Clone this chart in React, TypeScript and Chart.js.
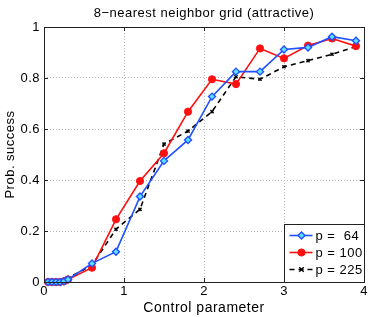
import React, { useEffect, useRef } from "react";
import { Chart, registerables } from "chart.js";

Chart.register(...registerables);

const controlParam = [0.05, 0.1, 0.15, 0.2, 0.25, 0.3, 0.6, 0.9, 1.2, 1.5, 1.8, 2.1, 2.4, 2.7, 3.0, 3.3, 3.6, 3.9];
const p64 = [0, 0, 0, 0, 0.003, 0.01, 0.073, 0.119, 0.335, 0.475, 0.557, 0.727, 0.825, 0.825, 0.912, 0.92, 0.962, 0.946];
const p100 = [0, 0, 0, 0, 0.003, 0.01, 0.056, 0.246, 0.396, 0.505, 0.668, 0.795, 0.776, 0.916, 0.877, 0.927, 0.955, 0.925];
const p225 = [0, 0, 0, 0, 0.005, 0.015, 0.066, 0.207, 0.285, 0.541, 0.592, 0.668, 0.805, 0.795, 0.844, 0.868, 0.893, 0.923];
const seriesLabels = ["p =  64", "p = 100", "p = 225"];
const xTicks = [0, 1, 2, 3, 4];
const yTicks = [0, 0.2, 0.4, 0.6, 0.8, 1];
const titleText = "8\u2212nearest neighbor grid (attractive)";

const FONT = "'Liberation Sans', Arial, Helvetica, sans-serif";

const toPts = (ys: number[]) => ys.map((y, i) => ({ x: controlParam[i], y }));

function drawMarker(ctx: CanvasRenderingContext2D, ds: any, x: number, y: number) {
  ctx.save();
  ctx.setLineDash([]);
  ctx.lineWidth = ds.pointBorderWidth;
  ctx.strokeStyle = ds.pointBorderColor;
  ctx.fillStyle = ds.pointBackgroundColor;
  const r = ds.pointRadius;
  ctx.beginPath();
  if (ds.pointStyle === "rectRot") {
    ctx.moveTo(x, y - r);
    ctx.lineTo(x + r, y);
    ctx.lineTo(x, y + r);
    ctx.lineTo(x - r, y);
    ctx.closePath();
    ctx.fill();
    ctx.stroke();
  } else if (ds.pointStyle === "circle") {
    ctx.arc(x, y, r, 0, Math.PI * 2);
    ctx.fill();
    ctx.stroke();
  } else {
    ctx.moveTo(x - r, y - r);
    ctx.lineTo(x + r, y + r);
    ctx.moveTo(x + r, y - r);
    ctx.lineTo(x - r, y + r);
    ctx.stroke();
  }
  ctx.restore();
}

const spacingPlugin = {
  id: "spacing",
  beforeLayout(chart: any) {
    (chart.ctx as any).letterSpacing = "0.5px";
  },
  beforeDraw(chart: any) {
    (chart.ctx as any).letterSpacing = "0.5px";
  },
};

const framePlugin = {
  id: "frame",
  afterDatasetsDraw(chart: any) {
    const { ctx, chartArea: a, scales } = chart;
    ctx.save();
    ctx.strokeStyle = "#222";
    ctx.lineWidth = 1;
    ctx.setLineDash([]);
    ctx.strokeRect(Math.round(a.left) + 0.5, Math.round(a.top) + 0.5, Math.round(a.right - a.left), Math.round(a.bottom - a.top));
    const tl = 4;
    ctx.beginPath();
    xTicks.forEach((v) => {
      const px = Math.round(scales.x.getPixelForValue(v)) + 0.5;
      ctx.moveTo(px, a.bottom);
      ctx.lineTo(px, a.bottom - tl);
      ctx.moveTo(px, a.top);
      ctx.lineTo(px, a.top + tl);
    });
    yTicks.forEach((v) => {
      const py = Math.round(scales.y.getPixelForValue(v)) + 0.5;
      ctx.moveTo(a.left, py);
      ctx.lineTo(a.left + tl, py);
      ctx.moveTo(a.right, py);
      ctx.lineTo(a.right - tl, py);
    });
    ctx.stroke();

    // title centred over the plot area
    ctx.fillStyle = "#000";
    ctx.font = `13px ${FONT}`;
    ctx.textAlign = "center";
    ctx.textBaseline = "middle";
    ctx.fillText(titleText, (a.left + a.right) / 2, 13);

    // legend box in lower right
    const w = 80, h = 58;
    const lx = Math.round(a.right) - w + 0.5;
    const ly = Math.round(a.bottom) - h + 0.5;
    ctx.fillStyle = "#fff";
    ctx.fillRect(lx, ly, w, h);
    ctx.strokeStyle = "#222";
    ctx.strokeRect(lx, ly, w, h);
    ctx.font = `13px ${FONT}`;
    ctx.textBaseline = "middle";
    ctx.textAlign = "left";
    chart.data.datasets.forEach((ds: any, i: number) => {
      const yy = ly + 11 + i * 17;
      ctx.save();
      ctx.strokeStyle = ds.borderColor;
      ctx.lineWidth = ds.borderWidth;
      ctx.setLineDash(ds.borderDash || []);
      ctx.beginPath();
      ctx.moveTo(lx + 5, yy);
      ctx.lineTo(lx + 28, yy);
      ctx.stroke();
      ctx.restore();
      drawMarker(ctx, ds, lx + 17, yy);
      ctx.fillStyle = "#000";
      ctx.fillText(ds.label, lx + 31, yy + 1);
    });
    ctx.restore();
  },
};

export default function App() {
  const ref = useRef<HTMLCanvasElement>(null);
  useEffect(() => {
    if (!ref.current) return;
    const grid = {
      color: "#b8b8b8",
      lineWidth: 1,
      tickLength: 0,
      drawTicks: false,
    };
    const chart = new Chart(ref.current, {
      type: "line",
      data: {
        datasets: [
          {
            label: seriesLabels[0],
            data: toPts(p64),
            borderColor: "#2050ff",
            backgroundColor: "#2050ff",
            borderWidth: 1.6,
            pointStyle: "rectRot",
            pointRadius: 3.5,
            pointBorderWidth: 1.4,
            pointBorderColor: "#2050ff",
            pointBackgroundColor: "#60e0ff",
            clip: false,
          } as any,
          {
            label: seriesLabels[1],
            data: toPts(p100),
            borderColor: "#ff1010",
            backgroundColor: "#ff1010",
            borderWidth: 1.6,
            pointStyle: "circle",
            pointRadius: 3.6,
            pointBorderWidth: 1,
            pointBorderColor: "#ff1010",
            pointBackgroundColor: "#ff1010",
            clip: false,
          } as any,
          {
            label: seriesLabels[2],
            data: toPts(p225),
            borderColor: "#000",
            backgroundColor: "#000",
            borderWidth: 1.6,
            borderDash: [5, 4],
            pointStyle: "crossRot",
            pointRadius: 2.2,
            pointBorderWidth: 1.5,
            pointBorderColor: "#000",
            pointBackgroundColor: "#000",
            clip: false,
          } as any,
        ],
      },
      options: {
        animation: false,
        responsive: false,
        devicePixelRatio: 1,
        layout: { padding: { left: 0, right: 10, top: 27, bottom: 0 } },
        plugins: {
          legend: { display: false },
          tooltip: { enabled: false },
          title: { display: false },
        },
        scales: {
          x: {
            type: "linear",
            min: 0,
            max: 4,
            afterBuildTicks: (s: any) => {
              s.ticks = xTicks.map((v) => ({ value: v }));
            },
            afterFit: (s: any) => {
              s.height = 35;
            },
            grid: { ...grid } as any,
            border: { display: false, dash: [1, 2] } as any,
            ticks: {
              color: "#000",
              font: { family: FONT, size: 13 },
              padding: 2,
              maxRotation: 0,
              callback: (v: any) => String(v),
            },
            title: {
              display: true,
              text: "Control parameter",
              color: "#000",
              font: { family: FONT, size: 14 },
              padding: { top: 0, bottom: 0 },
            },
          },
          y: {
            type: "linear",
            min: 0,
            max: 1,
            afterBuildTicks: (s: any) => {
              s.ticks = yTicks.map((v) => ({ value: v }));
            },
            afterFit: (s: any) => {
              s.width = 44;
            },
            grid: grid as any,
            border: { display: false, dash: [1, 2] } as any,
            ticks: {
              color: "#000",
              font: { family: FONT, size: 13 },
              padding: 4,
              callback: (v: any) => String(v),
            },
            title: {
              display: true,
              text: "Prob. success",
              color: "#000",
              font: { family: FONT, size: 13 },
              padding: { top: 3, bottom: 0 },
            },
          },
        },
      },
      plugins: [spacingPlugin, framePlugin],
    } as any);
    return () => chart.destroy();
  }, []);
  return (
    <div style={{ position: "fixed", left: 0, top: 0, width: 374, height: 317, background: "#fff" }}>
      <canvas ref={ref} width={374} height={317} style={{ width: 374, height: 317 }} />
    </div>
  );
}
